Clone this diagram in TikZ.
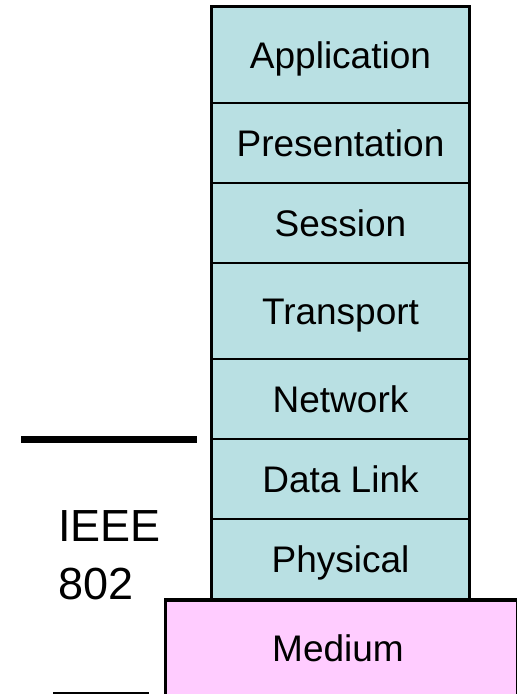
\documentclass[tikz,border=0pt]{standalone}
\usepackage{fontspec}
\setmainfont{Liberation Sans}
\definecolor{layerfill}{RGB}{185,224,227}
\definecolor{mediumfill}{RGB}{255,204,255}
\begin{document}
\begin{tikzpicture}[x=1pt,y=-1pt,
  layer/.style={draw=black, line width=1.5pt, fill=layerfill, rectangle,
    minimum width=257pt, inner sep=0pt, text height=26.5pt, text depth=0pt,
    font=\fontsize{37}{44}\selectfont},
  biglabel/.style={anchor=base west, inner sep=0pt, font=\fontsize{45}{54}\selectfont},
  bar/.style={line width=7pt}]
\useasboundingbox (0,0) rectangle (517,694);
\clip (0,0) rectangle (517,694);
% medium
\node[draw=black, line width=3pt, fill=mediumfill, rectangle, minimum width=352pt,
  minimum height=130pt, inner sep=0pt, anchor=north west] (medium) at (164,599) {};
\node[anchor=base, inner sep=0pt, font=\fontsize{37}{44}\selectfont] (mediumtext) at (338,661) {Medium};
% stack
\node[layer, minimum height=96pt] (app) at (340.5,55) {Application};
\node[layer, minimum height=80pt] (pres) at (340.5,143) {Presentation};
\node[layer, minimum height=80pt] (sess) at (340.5,223) {Session};
\node[layer, minimum height=96pt] (trans) at (340.5,311) {Transport};
\node[layer, minimum height=80pt] (net) at (340.5,399) {Network};
\node[layer, minimum height=80pt] (dl) at (340.5,479) {Data Link};
\node[layer, minimum height=80pt] (phys) at (340.5,559) {Physical};
\draw[line width=3pt] (app.north west) rectangle (phys.south east);
\draw[line width=3pt] (medium.north west) -- (medium.north east);
% IEEE label
\node[biglabel] (ieee) at (58,541) {IEEE};
\node[biglabel] (num) at (58,599) {802};
% bars
\coordinate (b1l) at (21,439.5);
\coordinate (b1r) at (197,439.5);
\coordinate (b2l) at (53,695);
\coordinate (b2r) at (149,695);
\draw[bar] (b1l) -- (b1r);
\draw[bar] (b2l) -- (b2r);
\end{tikzpicture}
\end{document}
